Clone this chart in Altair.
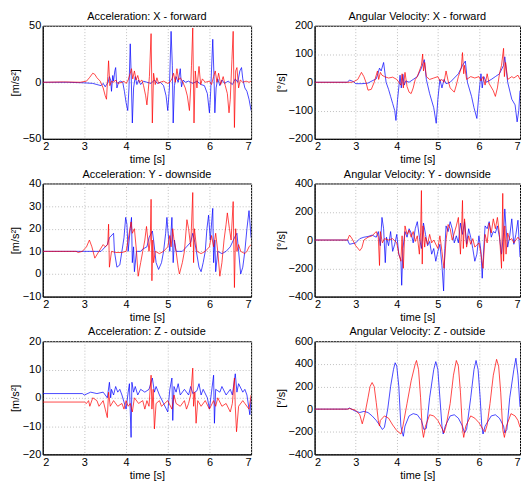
import altair as alt
import pandas as pd

FONT = "Liberation Sans"

# ---------------- data (time [s], value) ----------------
ACC_X_RED = [(2.0,0),(2.5,0.3),(2.9,0),(3.05,1),(3.12,4),(3.2,8),(3.25,7),(3.3,4),(3.38,1),(3.45,-5),(3.5,-12),(3.53,-15),(3.56,5),(3.58,19),(3.61,-3),(3.65,1),(3.7,0),(3.75,2),(3.8,-1),(3.9,0),(3.95,1),(4.0,-1),(4.05,2),(4.1,8),(4.13,12),(4.16,3),(4.2,10),(4.24,2),(4.28,6),(4.32,0),(4.38,2),(4.42,-3),(4.47,-12),(4.5,-20),(4.53,-8),(4.56,5),(4.6,43),(4.63,-36),(4.66,8),(4.7,-2),(4.74,4),(4.78,-1),(4.82,0),(4.9,1),(5.0,-1),(5.05,0),(5.1,3),(5.14,8),(5.18,0),(5.22,12),(5.26,2),(5.3,4),(5.35,1),(5.42,-5),(5.47,-12),(5.52,-25),(5.55,-5),(5.57,15),(5.6,48),(5.63,-36),(5.66,10),(5.7,-5),(5.75,14),(5.79,-2),(5.83,3),(5.9,0),(6.0,1),(6.05,-2),(6.1,5),(6.14,10),(6.18,0),(6.22,8),(6.27,-2),(6.33,5),(6.38,-3),(6.43,-10),(6.47,-27),(6.5,-15),(6.54,20),(6.57,45),(6.6,-40),(6.63,10),(6.66,13),(6.7,-5),(6.74,2),(6.8,0),(6.88,1),(6.95,0),(7.0,1)]
ACC_X_BLUE = [(2.0,0),(2.6,0),(3.0,-0.5),(3.2,-1),(3.3,-2),(3.4,-3),(3.45,-1),(3.5,-4),(3.53,-2),(3.57,0),(3.6,5),(3.63,2),(3.65,-8),(3.68,6),(3.7,1),(3.73,10),(3.75,13),(3.78,-5),(3.82,0),(3.87,1),(3.92,0),(3.96,-8),(4.0,-18),(4.04,-25),(4.07,-5),(4.1,34),(4.12,10),(4.15,-36),(4.18,-5),(4.22,5),(4.26,-2),(4.3,2),(4.35,-2),(4.42,1),(4.5,0),(4.6,-1),(4.68,2),(4.75,-1),(4.82,0),(4.9,-3),(4.96,-12),(5.0,-25),(5.04,-5),(5.08,45),(5.11,15),(5.13,-36),(5.16,-3),(5.2,5),(5.25,0),(5.3,12),(5.33,-4),(5.37,2),(5.42,0),(5.5,1),(5.6,-1),(5.7,1),(5.8,-2),(5.88,-3),(5.95,-10),(6.0,-27),(6.03,-8),(6.08,38),(6.11,5),(6.13,-27),(6.16,-5),(6.2,3),(6.25,-3),(6.3,2),(6.36,-1),(6.45,1),(6.55,-2),(6.62,3),(6.68,0),(6.73,10),(6.77,13),(6.8,3),(6.85,-5),(6.9,-8),(6.95,-15),(7.0,-25)]

GYR_X_RED = [(2.0,0),(2.9,0),(2.95,2),(3.05,10),(3.14,35),(3.2,20),(3.25,0),(3.3,-28),(3.38,-25),(3.45,0),(3.5,25),(3.53,40),(3.56,10),(3.6,35),(3.64,25),(3.7,20),(3.8,15),(3.9,18),(4.0,10),(4.05,0),(4.1,-10),(4.13,30),(4.16,-20),(4.2,35),(4.25,-15),(4.3,-35),(4.35,-40),(4.4,-20),(4.45,10),(4.5,20),(4.55,40),(4.6,60),(4.63,100),(4.65,40),(4.68,70),(4.72,20),(4.8,10),(4.9,15),(5.0,20),(5.05,5),(5.1,10),(5.15,0),(5.2,40),(5.25,5),(5.3,-20),(5.4,-35),(5.45,-10),(5.5,20),(5.57,50),(5.6,105),(5.63,30),(5.65,60),(5.7,10),(5.8,20),(5.9,15),(6.0,20),(6.05,5),(6.1,20),(6.15,-10),(6.2,30),(6.25,-5),(6.35,-30),(6.4,-50),(6.45,-20),(6.5,30),(6.55,60),(6.6,120),(6.62,20),(6.65,70),(6.7,10),(6.8,20),(6.85,15),(6.95,25),(7.0,10)]
GYR_X_BLUE = [(2.0,0),(2.8,0),(2.85,8),(2.95,2),(3.0,-5),(3.15,-5),(3.3,-3),(3.4,5),(3.5,12),(3.54,30),(3.58,50),(3.62,40),(3.68,70),(3.74,0),(3.8,-25),(3.85,-50),(3.9,-75),(3.95,-100),(3.98,-135),(4.02,-60),(4.08,25),(4.11,-20),(4.15,28),(4.18,-10),(4.22,5),(4.3,0),(4.4,10),(4.5,20),(4.6,50),(4.67,80),(4.72,10),(4.8,-40),(4.9,-90),(4.96,-145),(5.0,-60),(5.05,10),(5.1,-20),(5.15,10),(5.2,-5),(5.3,0),(5.4,15),(5.5,30),(5.6,60),(5.67,75),(5.72,0),(5.82,-50),(5.88,-90),(5.95,-128),(6.0,-40),(6.05,30),(6.08,-20),(6.12,20),(6.18,0),(6.3,10),(6.4,20),(6.5,30),(6.6,60),(6.63,90),(6.7,0),(6.8,-60),(6.88,-80),(6.93,-140),(6.97,-100),(7.0,-30)]

ACC_Y_RED = [(2.0,10),(2.8,10),(2.85,9.5),(2.95,10),(3.05,12),(3.12,15),(3.18,12),(3.25,7),(3.35,10),(3.45,13),(3.5,12),(3.56,13),(3.58,22),(3.6,3),(3.65,10),(3.75,9.5),(3.9,9.5),(4.0,10),(4.05,15),(4.12,23),(4.15,18),(4.2,20),(4.25,10),(4.29,-1),(4.35,5),(4.4,10),(4.45,15),(4.49,21),(4.55,10),(4.58,15),(4.6,33),(4.62,-3),(4.64,15),(4.66,5),(4.7,10),(4.8,9),(4.9,10),(5.0,12),(5.05,17),(5.08,12),(5.12,20),(5.15,15),(5.2,10),(5.25,3),(5.28,0),(5.35,5),(5.4,10),(5.46,24),(5.5,20),(5.55,12),(5.6,36),(5.62,5),(5.64,20),(5.7,10),(5.8,9),(5.9,10),(6.0,12),(6.05,17),(6.1,12),(6.15,18),(6.2,10),(6.25,-1),(6.3,5),(6.35,15),(6.4,22),(6.43,27),(6.48,20),(6.52,15),(6.57,32),(6.6,-6),(6.63,20),(6.66,10),(6.7,13),(6.75,10),(6.85,9),(6.9,10),(6.95,12),(7.0,13)]
ACC_Y_BLUE = [(2.0,10),(3.4,10),(3.45,11),(3.55,13),(3.6,16),(3.7,18),(3.72,10),(3.78,3),(3.85,4),(3.9,10),(3.95,16),(3.99,25),(4.02,22),(4.05,10),(4.1,20),(4.13,25),(4.15,5),(4.18,12),(4.2,1),(4.25,10),(4.35,10),(4.4,11),(4.5,12),(4.55,16),(4.63,19),(4.66,15),(4.72,5),(4.78,2),(4.85,5),(4.9,10),(4.95,18),(4.98,25),(5.0,20),(5.05,10),(5.1,25),(5.13,5),(5.16,15),(5.2,10),(5.35,10),(5.45,12),(5.55,14),(5.6,18),(5.65,14),(5.75,3),(5.8,1),(5.85,5),(5.9,10),(5.94,20),(5.98,26),(6.02,15),(6.08,29),(6.1,5),(6.13,15),(6.15,1),(6.2,10),(6.3,9),(6.4,10),(6.5,12),(6.6,16),(6.66,18),(6.7,10),(6.75,0),(6.8,3),(6.85,10),(6.9,20),(6.95,28),(7.0,16)]

GYR_Y_RED = [(2.0,0),(2.8,0),(2.85,35),(2.9,15),(3.0,-40),(3.1,-75),(3.15,-55),(3.2,0),(3.3,20),(3.4,30),(3.5,60),(3.55,20),(3.58,-180),(3.6,60),(3.65,-20),(3.7,10),(3.8,0),(3.9,10),(4.0,-20),(4.05,-100),(4.1,-150),(4.13,30),(4.16,-200),(4.2,100),(4.25,40),(4.3,70),(4.35,20),(4.4,60),(4.45,-10),(4.5,30),(4.55,-100),(4.58,50),(4.6,350),(4.62,-170),(4.64,100),(4.68,-50),(4.7,20),(4.75,-30),(4.8,40),(4.85,-20),(4.9,0),(5.0,-60),(5.05,30),(5.1,-80),(5.15,-200),(5.2,0),(5.25,110),(5.3,80),(5.35,0),(5.4,50),(5.45,100),(5.5,160),(5.55,-100),(5.58,100),(5.6,280),(5.62,-60),(5.65,150),(5.7,-50),(5.75,30),(5.8,-30),(5.85,10),(5.9,-50),(6.0,-20),(6.05,-100),(6.1,-200),(6.15,40),(6.2,-20),(6.25,120),(6.3,50),(6.35,150),(6.4,80),(6.45,160),(6.5,40),(6.55,-200),(6.58,330),(6.6,-150),(6.63,100),(6.66,-100),(6.7,50),(6.75,0),(6.8,10),(6.85,-20),(6.9,0),(6.95,20),(7.0,0)]
GYR_Y_BLUE = [(2.0,0),(2.8,0),(2.85,-30),(3.0,-20),(3.1,10),(3.2,20),(3.3,25),(3.4,35),(3.5,20),(3.55,60),(3.6,-40),(3.64,160),(3.68,80),(3.72,-160),(3.75,20),(3.8,-40),(3.85,60),(3.9,-80),(3.95,-30),(4.0,40),(4.05,-100),(4.1,-140),(4.12,-320),(4.15,-60),(4.2,60),(4.25,20),(4.3,80),(4.35,50),(4.4,-20),(4.45,80),(4.5,130),(4.55,20),(4.6,-60),(4.65,120),(4.7,40),(4.75,-40),(4.8,-10),(4.85,-100),(4.9,-60),(4.95,-150),(5.0,-80),(5.05,-30),(5.1,-180),(5.14,-360),(5.17,-60),(5.2,100),(5.25,60),(5.3,130),(5.35,80),(5.4,-20),(5.45,30),(5.5,-20),(5.55,120),(5.6,40),(5.65,130),(5.7,-30),(5.75,80),(5.8,20),(5.85,-60),(5.9,-150),(5.95,-100),(6.0,30),(6.05,-80),(6.08,-270),(6.12,-50),(6.15,100),(6.2,80),(6.25,130),(6.3,20),(6.35,60),(6.4,50),(6.45,100),(6.5,20),(6.55,-100),(6.6,50),(6.63,220),(6.66,80),(6.7,-50),(6.75,30),(6.8,150),(6.85,-30),(6.9,40),(6.95,140),(7.0,-120)]

ACC_Z_RED = [(2.0,-1.5),(3.0,-1.5),(3.05,-2),(3.1,-1),(3.13,-3),(3.2,0),(3.3,-1),(3.35,-3),(3.45,-1),(3.5,-4),(3.55,-7),(3.58,2),(3.62,-3),(3.7,-1),(3.8,-3),(3.9,-2),(3.95,-4),(4.0,-1),(4.05,-3),(4.1,-2),(4.15,-5),(4.2,0),(4.3,-2),(4.4,-1),(4.45,-4),(4.5,-1),(4.55,-3),(4.6,8),(4.62,-4),(4.65,3),(4.68,-11),(4.72,-2),(4.8,-1),(4.85,-3),(5.0,-1),(5.1,-4),(5.15,1),(5.2,-2),(5.3,-3),(5.4,-1),(5.45,-4),(5.5,-2),(5.55,1),(5.6,10.5),(5.62,-3),(5.65,2),(5.68,-9),(5.72,-1),(5.8,-3),(5.9,-1),(6.0,-4),(6.1,-1),(6.15,-3),(6.2,0),(6.3,-3),(6.4,-2),(6.5,-5),(6.55,-2),(6.6,7),(6.62,-3),(6.65,-12),(6.7,-3),(6.8,-1),(6.85,-2),(6.95,-4),(7.0,1)]
ACC_Z_BLUE = [(2.0,1.5),(2.95,1.5),(3.0,1),(3.15,2),(3.3,1.5),(3.45,2),(3.55,0),(3.6,5.5),(3.63,0),(3.65,3),(3.7,1),(3.75,4),(3.8,2),(3.85,3),(3.9,1),(4.0,-4),(4.05,2),(4.08,5),(4.12,-14),(4.14,5.5),(4.18,2),(4.22,4),(4.28,1),(4.35,3),(4.45,2),(4.55,3),(4.63,7),(4.68,2),(4.72,4),(4.8,1),(4.9,-2),(5.0,-5),(5.05,3),(5.1,7),(5.12,-8),(5.15,4),(5.2,2),(5.25,5),(5.3,1),(5.4,3),(5.5,1),(5.55,4),(5.6,1.5),(5.7,2.5),(5.75,5),(5.8,1),(5.85,3),(5.95,0),(6.0,-4),(6.05,2),(6.1,8),(6.12,-9),(6.15,3),(6.25,2),(6.3,4),(6.4,1),(6.5,3),(6.55,1),(6.62,8.5),(6.66,2),(6.7,5),(6.8,2),(6.85,3),(6.9,1),(6.97,-6),(7.0,0)]

GYR_Z_RED = [(2.0,0),(2.8,0),(2.85,5),(3.0,-10),(3.1,-50),(3.16,-130),(3.22,-50),(3.3,100),(3.35,200),(3.4,235),(3.45,200),(3.5,60),(3.55,-100),(3.58,-150),(3.6,-100),(3.7,-60),(3.8,-80),(3.9,-140),(4.0,-190),(4.1,-220),(4.15,-150),(4.25,50),(4.35,250),(4.45,400),(4.48,430),(4.53,350),(4.58,100),(4.62,-180),(4.65,-250),(4.7,-150),(4.8,-50),(4.9,-60),(5.0,-100),(5.1,-170),(5.15,-210),(5.2,-150),(5.3,50),(5.38,300),(5.45,430),(5.5,380),(5.55,150),(5.6,-180),(5.63,-250),(5.68,-150),(5.8,-60),(5.9,-80),(6.0,-120),(6.1,-180),(6.15,-200),(6.2,-140),(6.27,50),(6.35,300),(6.43,440),(6.48,380),(6.53,150),(6.58,-180),(6.62,-250),(6.67,-150),(6.78,-40),(6.88,-60),(6.95,-100),(7.0,-160)]
GYR_Z_BLUE = [(2.0,0),(2.8,0),(2.85,10),(3.0,-20),(3.1,-30),(3.2,-20),(3.3,-30),(3.4,-60),(3.5,-100),(3.58,-140),(3.65,-180),(3.7,-160),(3.78,0),(3.85,200),(3.92,350),(3.96,410),(4.0,380),(4.05,200),(4.1,-150),(4.13,-200),(4.16,-240),(4.2,-150),(4.3,-60),(4.4,-40),(4.5,-50),(4.6,-100),(4.66,-180),(4.72,-170),(4.8,100),(4.9,350),(4.95,420),(5.0,350),(5.05,100),(5.1,-150),(5.13,-220),(5.18,-150),(5.3,-60),(5.4,-50),(5.5,-80),(5.6,-150),(5.65,-210),(5.7,-180),(5.8,100),(5.88,350),(5.93,430),(5.98,350),(6.03,100),(6.07,-150),(6.1,-220),(6.15,-150),(6.3,-60),(6.4,-50),(6.5,-80),(6.6,-150),(6.63,-210),(6.68,-180),(6.75,100),(6.85,350),(6.9,450),(6.95,300),(7.0,20)]

X_TICKS = [2, 3, 4, 5, 6, 7]


def panel(title, ytitle, red, blue, dom, ticks, width):
    rows = [(t, v, "blue") for t, v in blue] + [(t, v, "red") for t, v in red]
    df = pd.DataFrame(rows, columns=["t", "v", "s"])
    return alt.Chart(df).mark_line(strokeWidth=0.9, opacity=0.8, clip=True).encode(
        x=alt.X("t:Q", scale=alt.Scale(domain=[2, 7], nice=False, zero=False),
                axis=alt.Axis(values=X_TICKS, title="time [s]", format="d")),
        y=alt.Y("v:Q", scale=alt.Scale(domain=dom, nice=False, zero=False),
                axis=alt.Axis(values=ticks, title=ytitle, format="d")),
        color=alt.Color("s:N", scale=alt.Scale(domain=["blue", "red"], range=["#0000ff", "#ff0000"]), legend=None),
    ).properties(
        width=width, height=114,
        title=alt.TitleParams(title, fontSize=11, font=FONT, fontWeight="normal", offset=-2, color="black"),
    )

WL, WR = 210, 207
p1 = panel("Acceleration: X - forward", "[m/s²]", ACC_X_RED, ACC_X_BLUE, [-50, 50], [-50, 0, 50], WL)
p2 = panel("Angular Velocity: X - forward", "[°/s]", GYR_X_RED, GYR_X_BLUE, [-200, 200], [-200, -100, 0, 100, 200], WR)
p3 = panel("Acceleration: Y - downside", "[m/s²]", ACC_Y_RED, ACC_Y_BLUE, [-10, 40], [-10, 0, 10, 20, 30, 40], WL)
p4 = panel("Angular Velocity: Y - downside", "[°/s]", GYR_Y_RED, GYR_Y_BLUE, [-400, 400], [-400, -200, 0, 200, 400], WR)
p5 = panel("Acceleration: Z - outside", "[m/s²]", ACC_Z_RED, ACC_Z_BLUE, [-20, 20], [-20, -10, 0, 10, 20], WL)
p6 = panel("Angular Velocity: Z - outside", "[°/s]", GYR_Z_RED, GYR_Z_BLUE, [-400, 600], [-400, -200, 0, 200, 400, 600], WR)

chart = alt.vconcat(
    alt.hconcat(p1, p2, spacing=22),
    alt.hconcat(p3, p4, spacing=22),
    alt.hconcat(p5, p6, spacing=22),
    spacing=2,
).properties(
    padding={"left": 0, "top": 0, "right": 0, "bottom": 0},
    background="white",
).configure_view(
    stroke="black", strokeWidth=1,
).configure_axis(
    labelFont=FONT, titleFont=FONT, labelFontSize=11, titleFontSize=11,
    labelColor="black", titleColor="black", titleFontWeight="normal",
    domainColor="black", ticks=False, labelPadding=2, titlePadding=2,
    grid=True, gridColor="#c0c0c0", gridDash=[1, 2], gridWidth=1,
).configure_concat(spacing=2)

chart.save("out.html", embed_options={"renderer": "svg", "actions": False})
